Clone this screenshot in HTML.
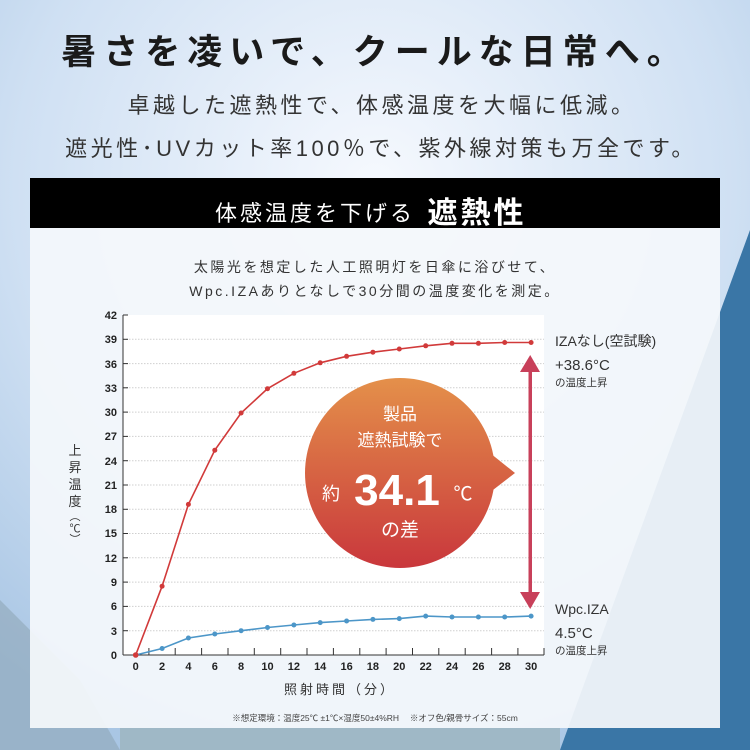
<!DOCTYPE html>
<html><head><meta charset="utf-8"><style>
html,body{margin:0;padding:0;width:750px;height:750px;overflow:hidden}
body{font-family:"Liberation Sans","Noto Sans CJK JP",sans-serif}
</style></head><body>
<svg width="750" height="750" viewBox="0 0 750 750" xmlns="http://www.w3.org/2000/svg" font-family="Liberation Sans, Noto Sans CJK JP, sans-serif">
<defs>
<radialGradient id="bg" cx="0.5" cy="0.25" r="0.8">
<stop offset="0" stop-color="#f6f9fe"/><stop offset="0.6" stop-color="#cfe0f3"/><stop offset="1" stop-color="#a9c6e4"/>
</radialGradient>
<linearGradient id="bub" gradientUnits="userSpaceOnUse" x1="0" y1="378" x2="0" y2="568">
<stop offset="0" stop-color="#e4904a"/><stop offset="1" stop-color="#c9373c"/>
</linearGradient>
</defs>
<rect width="750" height="750" fill="url(#bg)"/>
<polygon points="750,230 750,750 560,750" fill="#3a76a6"/>
<polygon points="0,600 0,750 120,750 80,680" fill="#8fa6b8" opacity="0.6"/>
<rect x="120" y="728" width="440" height="22" fill="#9fb8c6"/>
<text x="375" y="64" text-anchor="middle" font-size="35" font-weight="bold" fill="#1a1a1a" letter-spacing="7">暑さを凌いで、クールな日常へ。</text>
<text x="382" y="113" text-anchor="middle" font-size="22" fill="#333" letter-spacing="3.5">卓越した遮熱性で、体感温度を大幅に低減。</text>
<text x="381" y="156" text-anchor="middle" font-size="22" fill="#333" letter-spacing="3.5">遮光性･UVカット率100％で、紫外線対策も万全です。</text>
<rect x="30" y="228" width="690" height="500" fill="#f4f7fb" opacity="0.93"/>
<rect x="30" y="178" width="690" height="50" fill="#000"/>
<text x="315" y="221" text-anchor="middle" font-size="22" fill="#fff" letter-spacing="3">体感温度を下げる</text>
<text x="477" y="223" text-anchor="middle" font-size="30" font-weight="bold" fill="#fff" letter-spacing="3">遮熱性</text>
<text x="375" y="272" text-anchor="middle" font-size="14" fill="#333" letter-spacing="2.5">太陽光を想定した人工照明灯を日傘に浴びせて、</text>
<text x="375" y="296" text-anchor="middle" font-size="14" fill="#333" letter-spacing="2.5">Wpc.IZAありとなしで30分間の温度変化を測定。</text>
<rect x="123" y="315" width="421" height="340" fill="#fff"/>
<g stroke="#cfcfcf" stroke-width="1" stroke-dasharray="1.5,1.5">
<line x1="123" y1="630.7" x2="544" y2="630.7"/><line x1="123" y1="606.4" x2="544" y2="606.4"/><line x1="123" y1="582.1" x2="544" y2="582.1"/><line x1="123" y1="557.8" x2="544" y2="557.8"/><line x1="123" y1="533.5" x2="544" y2="533.5"/><line x1="123" y1="509.3" x2="544" y2="509.3"/><line x1="123" y1="485" x2="544" y2="485"/><line x1="123" y1="460.7" x2="544" y2="460.7"/><line x1="123" y1="436.4" x2="544" y2="436.4"/><line x1="123" y1="412.1" x2="544" y2="412.1"/><line x1="123" y1="387.8" x2="544" y2="387.8"/><line x1="123" y1="363.6" x2="544" y2="363.6"/><line x1="123" y1="339.3" x2="544" y2="339.3"/>
</g>
<g stroke="#333" stroke-width="1">
<line x1="123" y1="315" x2="123" y2="655"/><line x1="123" y1="655" x2="544" y2="655"/>
<line x1="123" y1="315" x2="128" y2="315"/><line x1="123" y1="339.3" x2="128" y2="339.3"/><line x1="123" y1="363.6" x2="128" y2="363.6"/><line x1="123" y1="387.8" x2="128" y2="387.8"/><line x1="123" y1="412.1" x2="128" y2="412.1"/><line x1="123" y1="436.4" x2="128" y2="436.4"/><line x1="123" y1="460.7" x2="128" y2="460.7"/><line x1="123" y1="485" x2="128" y2="485"/><line x1="123" y1="509.3" x2="128" y2="509.3"/><line x1="123" y1="533.5" x2="128" y2="533.5"/><line x1="123" y1="557.8" x2="128" y2="557.8"/><line x1="123" y1="582.1" x2="128" y2="582.1"/><line x1="123" y1="606.4" x2="128" y2="606.4"/><line x1="123" y1="630.7" x2="128" y2="630.7"/>
<line x1="148.9" y1="655" x2="148.9" y2="648"/><line x1="175.2" y1="655" x2="175.2" y2="648"/><line x1="201.6" y1="655" x2="201.6" y2="648"/><line x1="228" y1="655" x2="228" y2="648"/><line x1="254.3" y1="655" x2="254.3" y2="648"/><line x1="280.7" y1="655" x2="280.7" y2="648"/><line x1="307" y1="655" x2="307" y2="648"/><line x1="333.4" y1="655" x2="333.4" y2="648"/><line x1="359.8" y1="655" x2="359.8" y2="648"/><line x1="386.1" y1="655" x2="386.1" y2="648"/><line x1="412.5" y1="655" x2="412.5" y2="648"/><line x1="438.8" y1="655" x2="438.8" y2="648"/><line x1="465.2" y1="655" x2="465.2" y2="648"/><line x1="491.6" y1="655" x2="491.6" y2="648"/><line x1="517.9" y1="655" x2="517.9" y2="648"/><line x1="544" y1="655" x2="544" y2="648"/>
</g>
<g font-size="11" font-weight="bold" fill="#222" text-anchor="end">
<text x="117" y="319">42</text><text x="117" y="343">39</text><text x="117" y="368">36</text><text x="117" y="392">33</text><text x="117" y="416">30</text><text x="117" y="440">27</text><text x="117" y="465">24</text><text x="117" y="489">21</text><text x="117" y="513">18</text><text x="117" y="537">15</text><text x="117" y="562">12</text><text x="117" y="586">9</text><text x="117" y="610">6</text><text x="117" y="635">3</text><text x="117" y="659">0</text>
</g>
<g font-size="11" font-weight="bold" fill="#222" text-anchor="middle">
<text x="135.7" y="670">0</text><text x="162.1" y="670">2</text><text x="188.4" y="670">4</text><text x="214.8" y="670">6</text><text x="241.1" y="670">8</text><text x="267.5" y="670">10</text><text x="293.9" y="670">12</text><text x="320.2" y="670">14</text><text x="346.6" y="670">16</text><text x="372.9" y="670">18</text><text x="399.3" y="670">20</text><text x="425.7" y="670">22</text><text x="452" y="670">24</text><text x="478.4" y="670">26</text><text x="504.7" y="670">28</text><text x="531.1" y="670">30</text>
</g>
<text x="340" y="694" text-anchor="middle" font-size="13" fill="#333" letter-spacing="3">照射時間（分）</text>
<g font-size="13" fill="#333" text-anchor="middle">
<text x="75" y="455">上</text><text x="75" y="472">昇</text><text x="75" y="489">温</text><text x="75" y="506">度</text><text x="75" y="520" font-size="11">︵</text><text x="75" y="532" font-size="11">℃</text><text x="75" y="543" font-size="11">︶</text>
</g>
<text x="375" y="721" text-anchor="middle" font-size="8.5" fill="#444">※想定環境：温度25℃ ±1℃×湿度50±4%RH　 ※オフ色/親骨サイズ：55cm</text>
<polyline fill="none" stroke="#d13a3a" stroke-width="1.6" points="135.7,655 162.1,586.2 188.4,504.4 214.8,450.2 241.1,413 267.5,388.7 293.9,373.3 320.2,362.8 346.6,356.3 372.9,352.2 399.3,349 425.7,345.8 452,343.3 478.4,343.3 504.7,342.5 531.1,342.5"/>
<g fill="#d13a3a"><circle cx="135.7" cy="655" r="2.5"/><circle cx="162.1" cy="586.2" r="2.5"/><circle cx="188.4" cy="504.4" r="2.5"/><circle cx="214.8" cy="450.2" r="2.5"/><circle cx="241.1" cy="413" r="2.5"/><circle cx="267.5" cy="388.7" r="2.5"/><circle cx="293.9" cy="373.3" r="2.5"/><circle cx="320.2" cy="362.8" r="2.5"/><circle cx="346.6" cy="356.3" r="2.5"/><circle cx="372.9" cy="352.2" r="2.5"/><circle cx="399.3" cy="349" r="2.5"/><circle cx="425.7" cy="345.8" r="2.5"/><circle cx="452" cy="343.3" r="2.5"/><circle cx="478.4" cy="343.3" r="2.5"/><circle cx="504.7" cy="342.5" r="2.5"/><circle cx="531.1" cy="342.5" r="2.5"/></g>
<polyline fill="none" stroke="#4c96c8" stroke-width="1.6" points="135.7,655 162.1,648.5 188.4,638 214.8,634 241.1,630.7 267.5,627.5 293.9,625 320.2,622.6 346.6,621 372.9,619.4 399.3,618.6 425.7,616.1 452,617 478.4,617 504.7,617 531.1,616.1"/>
<g fill="#4c96c8"><circle cx="162.1" cy="648.5" r="2.5"/><circle cx="188.4" cy="638" r="2.5"/><circle cx="214.8" cy="634" r="2.5"/><circle cx="241.1" cy="630.7" r="2.5"/><circle cx="267.5" cy="627.5" r="2.5"/><circle cx="293.9" cy="625" r="2.5"/><circle cx="320.2" cy="622.6" r="2.5"/><circle cx="346.6" cy="621" r="2.5"/><circle cx="372.9" cy="619.4" r="2.5"/><circle cx="399.3" cy="618.6" r="2.5"/><circle cx="425.7" cy="616.1" r="2.5"/><circle cx="452" cy="617" r="2.5"/><circle cx="478.4" cy="617" r="2.5"/><circle cx="504.7" cy="617" r="2.5"/><circle cx="531.1" cy="616.1" r="2.5"/></g>
<circle cx="135.7" cy="655" r="2.8" fill="#d13a3a"/>
<g fill="url(#bub)"><circle cx="400" cy="473" r="95"/><polygon points="480,445 515,473 480,500"/></g>
<g fill="#fff" text-anchor="middle">
<text x="400" y="420" font-size="17">製品</text>
<text x="400" y="446" font-size="17">遮熱試験で</text>
<text x="331" y="500" font-size="18">約</text>
<text x="397" y="505" font-size="44" font-weight="bold">34.1</text>
<text x="463" y="500" font-size="19">℃</text>
<text x="400" y="536" font-size="19">の差</text>
</g>
<g fill="#c8405a"><rect x="528.5" y="368" width="3.5" height="228"/><polygon points="520,372 530.2,355 540,372"/><polygon points="520,592 530.2,609 540,592"/></g>
<g fill="#333">
<text x="555" y="346" font-size="14">IZAなし(空試験)</text>
<text x="555" y="370" font-size="15">+38.6°C</text>
<text x="555" y="386" font-size="10.5">の温度上昇</text>
<text x="555" y="614" font-size="14">Wpc.IZA</text>
<text x="555" y="638" font-size="15">4.5°C</text>
<text x="555" y="654" font-size="10.5">の温度上昇</text>
</g>
</svg>
</body></html>
